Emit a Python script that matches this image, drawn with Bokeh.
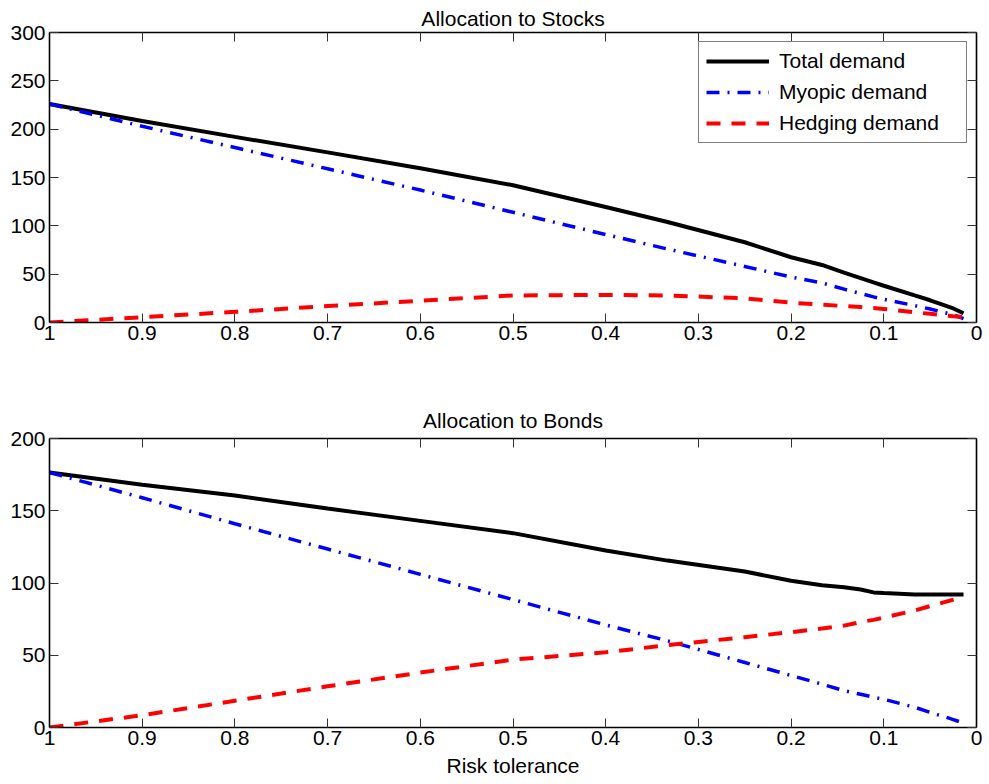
from bokeh.plotting import figure
from bokeh.models import Range1d, FixedTicker, LinearAxis, Legend, LegendItem
from bokeh.layouts import column
from bokeh.embed import file_html
from bokeh.resources import INLINE

# ---------------- data ----------------
risk_tolerance = [1.0, 0.9, 0.8, 0.7, 0.6, 0.5, 0.4, 0.3333, 0.25, 0.2,
                  0.1667, 0.1429, 0.125, 0.1111, 0.1, 0.0667, 0.05, 0.025, 0.014]

stocks_total = [226, 208.5, 192, 176, 159.5, 142, 119.5, 104, 83, 67.5,
                59.5, 51.5, 46, 41.5, 38, 28, 23, 14.5, 9.5]
stocks_myopic = [226, 203, 181, 159, 137, 114, 91, 76, 58, 47,
                 41, 34.5, 30, 26.5, 24, 17.5, 14, 8, 4]
stocks_hedging = [0, 5.5, 11, 17, 22.5, 28, 28.5, 28, 25, 20.5,
                  18.5, 17, 16, 15, 14, 10.5, 9, 6.5, 5.5]

bonds_total = [176.5, 168, 160.5, 151.5, 143, 134.5, 122.5, 115.5, 108, 101.5,
               98.5, 97, 95.5, 93.5, 93, 92, 92, 92, 92]
bonds_myopic = [176.5, 159, 141, 123.5, 106, 88.5, 71, 60, 45, 36,
                30, 25.5, 23, 21, 19.5, 14, 10.5, 5.5, 3]
bonds_hedging = [0, 8.5, 18.5, 28.5, 38, 47, 52, 57, 62.5, 66,
                 68.5, 70.5, 73, 74.5, 76, 81, 84, 88.5, 90.5]

x_ticks = [1.0, 0.9, 0.8, 0.7, 0.6, 0.5, 0.4, 0.3, 0.2, 0.1, 0.0]
x_tick_labels = ["1", "0.9", "0.8", "0.7", "0.6", "0.5", "0.4", "0.3", "0.2", "0.1", "0"]
stocks_y_ticks = [0, 50, 100, 150, 200, 250, 300]
bonds_y_ticks = [0, 50, 100, 150, 200]

series_labels = ["Total demand", "Myopic demand", "Hedging demand"]

FONT = "Liberation Sans"
FS = "21px"


def style_axis(ax, show_labels=True):
    ax.axis_line_color = "black"
    ax.axis_line_width = 1.6
    ax.major_tick_in = 9
    ax.major_tick_out = 0
    ax.major_tick_line_color = "#333333"
    ax.major_tick_line_width = 1
    ax.minor_tick_line_color = None
    ax.major_label_text_font = FONT
    if show_labels:
        ax.major_label_text_font_size = FS
        ax.major_label_text_color = "black"
    else:
        ax.major_label_text_font_size = "0px"
        ax.major_label_text_color = None
        ax.major_label_text_alpha = 0
        ax.major_label_standoff = 0


def make_fig(title, ymax, yticks, height, b_top, b_bottom, title_standoff, xlabel=None):
    p = figure(width=989, height=height,
               x_range=Range1d(1, 0), y_range=Range1d(0, ymax),
               output_backend="svg", toolbar_location=None,
               x_axis_location=None, y_axis_location=None,
               min_border_left=49, min_border_right=13,
               min_border_top=b_top, min_border_bottom=b_bottom,
               title=title)
    p.title.align = "center"
    p.title.text_font = FONT
    p.title.text_font_size = FS
    p.title.text_font_style = "normal"
    p.title.text_color = "black"
    p.title.standoff = title_standoff
    p.outline_line_color = None
    p.xgrid.visible = False
    p.ygrid.visible = False
    p.background_fill_color = "white"
    p.border_fill_color = "white"

    overrides = dict(zip(x_ticks, x_tick_labels))
    xb = LinearAxis(ticker=FixedTicker(ticks=x_ticks), major_label_overrides=overrides)
    style_axis(xb)
    xb.major_label_standoff = 3
    if xlabel:
        xb.axis_label = xlabel
        xb.axis_label_text_font = FONT
        xb.axis_label_text_font_size = FS
        xb.axis_label_text_font_style = "normal"
        xb.axis_label_text_color = "black"
        xb.axis_label_standoff = 6
    p.add_layout(xb, "below")

    xt = LinearAxis(ticker=FixedTicker(ticks=x_ticks))
    style_axis(xt, show_labels=False)
    p.add_layout(xt, "above")

    yl = LinearAxis(ticker=FixedTicker(ticks=yticks))
    style_axis(yl)
    yl.major_label_standoff = 4
    p.add_layout(yl, "left")

    yr = LinearAxis(ticker=FixedTicker(ticks=yticks))
    style_axis(yr, show_labels=False)
    p.add_layout(yr, "right")
    return p


def add_lines(p, total, myopic, hedging):
    r1 = p.line(risk_tolerance, total, line_color="black", line_width=4)
    r2 = p.line(risk_tolerance, myopic, line_color="#0000ff", line_width=3.5,
                line_dash="13 8 2 8")
    r3 = p.line(risk_tolerance, hedging, line_color="#ff0000", line_width=4,
                line_dash="14 11")
    return [r1, r2, r3]


p1 = make_fig("Allocation to Stocks", 300, stocks_y_ticks, 392, 32, 70, 6)
rs = add_lines(p1, stocks_total, stocks_myopic, stocks_hedging)
legend = Legend(items=[LegendItem(label=l, renderers=[r]) for l, r in zip(series_labels, rs)],
                location="top_right", margin=9, padding=7, spacing=7,
                glyph_width=63, glyph_height=20, label_height=20, label_width=180,
                label_standoff=10,
                label_text_font=FONT, label_text_font_size=FS, label_text_color="black",
                border_line_color="black", border_line_width=1.5,
                background_fill_color="white", background_fill_alpha=1.0)
p1.add_layout(legend)

p2 = make_fig("Allocation to Bonds", 200, bonds_y_ticks, 392, 46, 57, 13, xlabel="Risk tolerance")
add_lines(p2, bonds_total, bonds_myopic, bonds_hedging)

layout = column(p1, p2, spacing=0)
open("out.html", "w").write(file_html(layout, INLINE))
